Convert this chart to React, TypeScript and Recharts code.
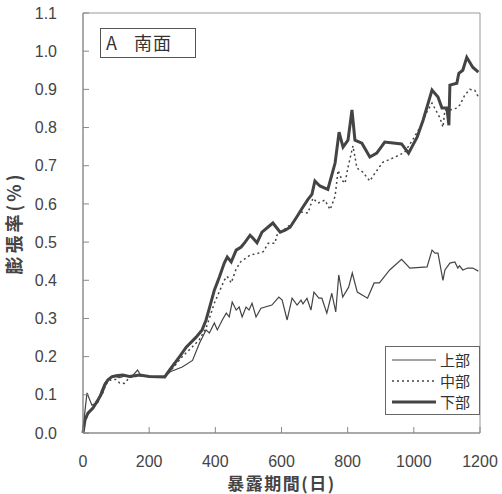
import { LineChart, Line, XAxis, YAxis, Legend, ReferenceArea } from 'recharts';

// 上部 (upper)
const upperDays = [0, 5, 12, 27, 45, 55, 65, 75, 90, 110, 130, 150, 165, 175, 200, 247, 262, 300, 331, 352, 361, 372, 382, 397, 406, 421, 433, 442, 451, 463, 472, 481, 493, 502, 511, 523, 538, 571, 592, 602, 617, 632, 647, 659, 665, 677, 689, 698, 713, 722, 737, 752, 764, 773, 785, 803, 814, 829, 860, 880, 896, 927, 963, 988, 1040, 1055, 1064, 1073, 1088, 1094, 1109, 1124, 1133, 1138, 1148, 1163, 1178, 1195];
const upperValues = [0, 0.05, 0.105, 0.073, 0.08, 0.11, 0.13, 0.14, 0.15, 0.145, 0.15, 0.15, 0.165, 0.15, 0.148, 0.147, 0.16, 0.173, 0.19, 0.235, 0.251, 0.27, 0.262, 0.288, 0.27, 0.296, 0.314, 0.304, 0.343, 0.322, 0.33, 0.304, 0.33, 0.322, 0.34, 0.304, 0.327, 0.335, 0.356, 0.348, 0.296, 0.353, 0.335, 0.348, 0.338, 0.353, 0.322, 0.369, 0.353, 0.353, 0.314, 0.366, 0.317, 0.414, 0.356, 0.382, 0.419, 0.369, 0.353, 0.393, 0.393, 0.427, 0.455, 0.432, 0.435, 0.479, 0.471, 0.471, 0.4, 0.427, 0.445, 0.448, 0.432, 0.438, 0.427, 0.432, 0.432, 0.424];

// 中部 (middle)
const middleDays = [0, 6, 15, 30, 45, 57, 66, 75, 87, 100, 111, 125, 140, 171, 200, 247, 262, 300, 330, 352, 372, 382, 397, 412, 427, 436, 448, 463, 478, 496, 505, 526, 545, 560, 580, 586, 605, 636, 656, 680, 695, 710, 731, 747, 762, 771, 783, 792, 801, 816, 828, 846, 867, 882, 906, 942, 972, 996, 1017, 1032, 1039, 1055, 1070, 1079, 1088, 1094, 1109, 1130, 1139, 1154, 1169, 1184, 1195];
const middleValues = [0, 0.03, 0.05, 0.065, 0.085, 0.1, 0.12, 0.135, 0.14, 0.14, 0.131, 0.13, 0.145, 0.15, 0.148, 0.147, 0.16, 0.2, 0.225, 0.245, 0.275, 0.3, 0.34, 0.37, 0.4, 0.41, 0.393, 0.43, 0.45, 0.46, 0.466, 0.47, 0.475, 0.497, 0.497, 0.518, 0.531, 0.552, 0.579, 0.576, 0.615, 0.602, 0.61, 0.585, 0.62, 0.688, 0.662, 0.654, 0.696, 0.752, 0.694, 0.683, 0.66, 0.68, 0.709, 0.722, 0.735, 0.767, 0.798, 0.827, 0.84, 0.864, 0.84, 0.825, 0.801, 0.846, 0.846, 0.851, 0.859, 0.885, 0.9, 0.898, 0.88];

// 下部 (lower)
const lowerDays = [0, 6, 15, 30, 45, 57, 66, 75, 87, 100, 120, 140, 171, 200, 247, 262, 292, 312, 342, 360, 372, 382, 397, 412, 427, 436, 448, 463, 478, 490, 505, 514, 526, 541, 574, 596, 611, 626, 647, 662, 680, 692, 701, 716, 740, 762, 774, 786, 801, 813, 822, 843, 867, 888, 912, 963, 984, 1010, 1028, 1055, 1073, 1085, 1100, 1106, 1109, 1130, 1136, 1148, 1160, 1178, 1195];
const lowerValues = [0, 0.034, 0.052, 0.065, 0.086, 0.105, 0.126, 0.139, 0.147, 0.15, 0.152, 0.148, 0.152, 0.148, 0.147, 0.165, 0.2, 0.225, 0.251, 0.27, 0.296, 0.327, 0.374, 0.408, 0.445, 0.461, 0.448, 0.479, 0.487, 0.5, 0.518, 0.51, 0.498, 0.526, 0.55, 0.526, 0.531, 0.539, 0.567, 0.588, 0.612, 0.625, 0.66, 0.647, 0.638, 0.707, 0.788, 0.749, 0.767, 0.846, 0.767, 0.759, 0.723, 0.733, 0.762, 0.757, 0.733, 0.775, 0.819, 0.898, 0.88, 0.851, 0.851, 0.806, 0.911, 0.916, 0.942, 0.95, 0.984, 0.958, 0.945];

const xTicks = [0, 200, 400, 600, 800, 1000, 1200];
const yTicks = [0, 0.1, 0.2, 0.3, 0.4, 0.5, 0.6, 0.7, 0.8, 0.9, 1.0, 1.1];

const toPoints = (days: number[], values: number[]) => days.map((d, i) => ({ d, v: values[i] }));

const SERIES = [
  { name: '上部', data: toPoints(upperDays, upperValues), width: 1.2, dash: undefined as string | undefined },
  { name: '中部', data: toPoints(middleDays, middleValues), width: 1.5, dash: '2 3' },
  { name: '下部', data: toPoints(lowerDays, lowerValues), width: 3, dash: undefined as string | undefined },
];

const NUM_FONT = '"Liberation Sans", Arial, sans-serif';
const JP_FONT = '"Noto Sans CJK JP", "Noto Sans", sans-serif';
const LINE_COLOR = '#444';

function LegendBox() {
  return (
    <div style={{ border: '1px solid #666', background: '#fff', padding: '2px 0 2px 6px', boxSizing: 'border-box', width: 95 }}>
      {SERIES.map((s) => (
        <div key={s.name} style={{ display: 'flex', alignItems: 'center', height: 21 }}>
          <svg width={44} height={10}>
            <line x1={0} y1={5} x2={44} y2={5} stroke={LINE_COLOR} strokeWidth={s.width} strokeDasharray={s.dash} />
          </svg>
          <span style={{ fontFamily: JP_FONT, fontSize: 15, color: '#333', marginLeft: 4, lineHeight: '18px' }}>{s.name}</span>
        </div>
      ))}
    </div>
  );
}

export default function App() {
  return (
    <div style={{ position: 'absolute', left: 0, top: 0, width: 502, height: 494, background: '#fff' }}>
      <LineChart width={502} height={494} margin={{ top: 13, right: 22, left: 0, bottom: 0 }}>
        <XAxis
          type="number"
          dataKey="d"
          domain={[0, 1200]}
          ticks={xTicks}
          tickSize={-6}
          tickMargin={29}
          height={61}
          stroke="#888"
          tick={{ fontSize: 16, fill: '#444', fontFamily: NUM_FONT }}
          label={{ value: '暴露期間(日)', position: 'insideBottom', offset: 4, style: { fontSize: 17, fontWeight: 700, fill: '#444', fontFamily: JP_FONT, letterSpacing: 1.5 } }}
        />
        <YAxis
          type="number"
          dataKey="v"
          domain={[0, 1.1]}
          ticks={yTicks}
          tickFormatter={(v) => v.toFixed(1)}
          tickSize={-6}
          tickMargin={32}
          width={83}
          stroke="#888"
          tick={{ fontSize: 16, fill: '#444', fontFamily: NUM_FONT }}
          label={{ value: '膨張率(%)', angle: -90, position: 'insideLeft', offset: 15, style: { fontSize: 18, fontWeight: 700, fill: '#444', fontFamily: JP_FONT, textAnchor: 'middle', letterSpacing: 3 } }}
        />
        <ReferenceArea x1={0} x2={1200} y1={0} y2={1.1} fill="none" stroke="#999" strokeWidth={1} />
        {SERIES.map((s) => (
          <Line
            key={s.name}
            data={s.data}
            dataKey="v"
            name={s.name}
            type="linear"
            stroke={LINE_COLOR}
            strokeWidth={s.width}
            strokeDasharray={s.dash}
            dot={false}
            activeDot={false}
            isAnimationActive={false}
          />
        ))}
        <Legend
          layout="vertical"
          align="center"
          verticalAlign="middle"
          content={() => <LegendBox />}
          wrapperStyle={{ left: 385, top: 346, width: 95 }}
        />
      </LineChart>
      <div
        style={{
          position: 'absolute', left: 100, top: 28, width: 96, height: 30, boxSizing: 'border-box',
          border: '1.5px solid #555', fontFamily: JP_FONT, fontSize: 18, color: '#333', lineHeight: '27px',
        }}
      >
        <span style={{ position: 'absolute', left: 5 }}>A</span>
        <span style={{ position: 'absolute', left: 33, letterSpacing: 1 }}>南面</span>
      </div>
    </div>
  );
}
